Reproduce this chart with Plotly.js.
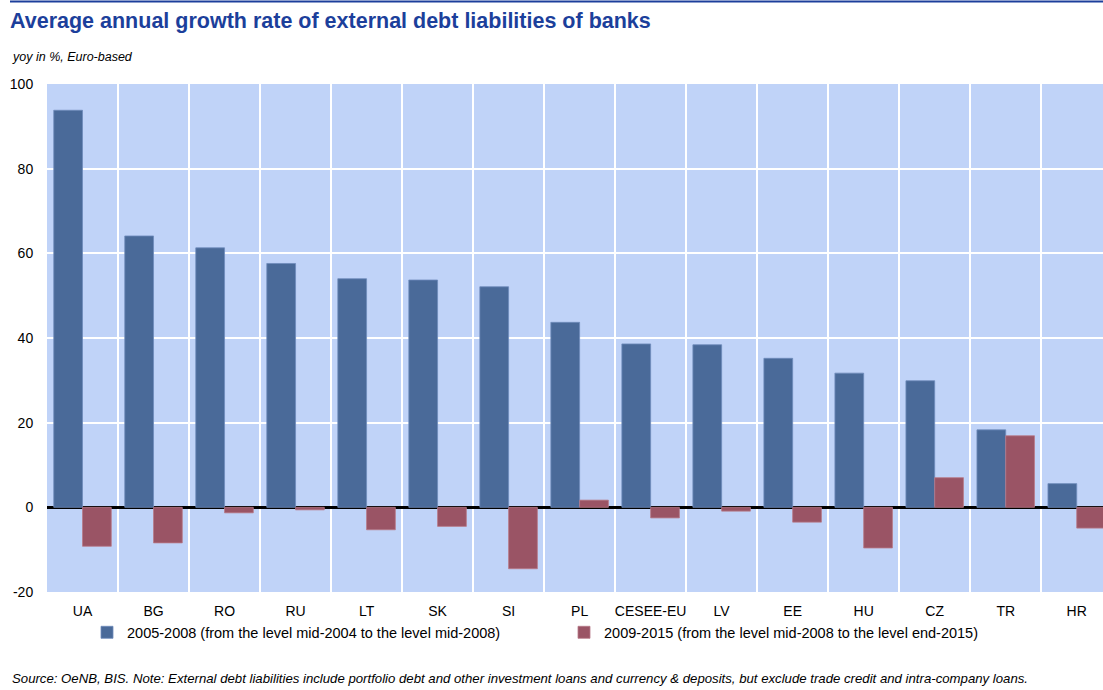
<!DOCTYPE html>
<html>
<head>
<meta charset="utf-8">
<script src="https://cdn.plot.ly/plotly-3.0.1.min.js"></script>
<style>html,body{margin:0;padding:0;background:#fff;}#chart{width:1103px;height:690px;}</style>
</head>
<body>
<div id="chart"></div>
<script>
const categories = ["UA","BG","RO","RU","LT","SK","SI","PL","CESEE-EU","LV","EE","HU","CZ","TR","HR"];
const growth2005_2008 = [93.8, 64.1, 61.3, 57.6, 54.0, 53.7, 52.1, 43.7, 38.6, 38.4, 35.2, 31.7, 29.9, 18.3, 5.6];
const growth2009_2015 = [-9.2, -8.4, -1.3, -0.6, -5.3, -4.5, -14.5, 1.7, -2.5, -0.9, -3.5, -9.6, 7.0, 16.9, -4.9];
const seriesNames = [
  "2005-2008 (from the level mid-2004 to the level mid-2008)",
  "2009-2015 (from the level mid-2008 to the level end-2015)"
];
const yTicks = [-20, 0, 20, 40, 60, 80, 100];

const FONT = "Liberation Sans, Arial, sans-serif";

const traces = [
  {type: "bar", x: categories, y: growth2005_2008, name: seriesNames[0],
   marker: {color: "#4a6a99", line: {color: "#6f8cbb", width: 0.8}}},
  {type: "bar", x: categories, y: growth2009_2015, name: seriesNames[1],
   marker: {color: "#9a5465", line: {color: "#b87a88", width: 0.8}}}
];

const layout = {
  width: 1103, height: 690,
  paper_bgcolor: "#ffffff",
  plot_bgcolor: "#c0d3f8",
  margin: {l: 47, r: 0, t: 84, b: 98, pad: 0},
  barmode: "group", bargap: 0.19, bargroupgap: 0,
  font: {family: FONT, size: 14, color: "#000"},
  title: {
    text: "Average annual growth rate of external debt liabilities of banks",
    font: {family: FONT, size: 21.5, color: "#1c3f9b", weight: "bold"},
    x: 10/1103, xanchor: "left", xref: "container",
    y: 1 - 20/690, yanchor: "middle", yref: "container"
  },
  xaxis: {
    type: "category", range: [-0.5, 14.37], tickson: "boundaries",
    showgrid: true, gridcolor: "#ffffff", gridwidth: 2,
    ticks: "", ticklabelstandoff: 9,
    tickangle: 0,
    tickfont: {family: FONT, size: 14, color: "#000"},
    showline: false, zeroline: false, automargin: false, fixedrange: true
  },
  yaxis: {
    range: [-20, 100], tickvals: yTicks, ticktext: yTicks.map(String),
    showgrid: true, gridcolor: "#ffffff", gridwidth: 2,
    zeroline: true, zerolinecolor: "#000000", zerolinewidth: 2.5,
    ticks: "outside", ticklen: 10, tickcolor: "rgba(0,0,0,0)",
    tickfont: {family: FONT, size: 14, color: "#000"},
    showline: false, automargin: false, fixedrange: true
  },
  legend: {
    orientation: "h", x: (87-47)/1056, xanchor: "left", y: -0.048, yanchor: "top",
    font: {family: FONT, size: 14.5, color: "#000"},
    bgcolor: "rgba(0,0,0,0)", traceorder: "normal",
    itemwidth: 30, entrywidth: 432, entrywidthmode: "pixels"
  },
  shapes: [
    {type: "line", xref: "paper", yref: "paper",
     x0: (10-47)/1056, x1: 1, y0: (592-1.5)/508, y1: (592-1.5)/508,
     line: {color: "#1c3f9b", width: 2}}
  ],
  annotations: [
    {text: "<i>yoy in %, Euro-based</i>", xref: "paper", yref: "paper",
     x: (10-47)/1056, xanchor: "left", y: (592-57)/508, yanchor: "middle",
     showarrow: false, font: {family: FONT, size: 12.5, color: "#000"}},
    {text: "<i>Source: OeNB, BIS. Note: External debt liabilities include portfolio debt and other investment loans and currency &amp; deposits, but exclude trade credit and intra-company loans.</i>",
     xref: "paper", yref: "paper",
     x: (10-47)/1056, xanchor: "left", y: (592-678)/508, yanchor: "middle",
     showarrow: false, font: {family: FONT, size: 13.2, color: "#000"}}
  ]
};

Plotly.newPlot("chart", traces, layout, {displayModeBar: false, staticPlot: true});
</script>
</body>
</html>
